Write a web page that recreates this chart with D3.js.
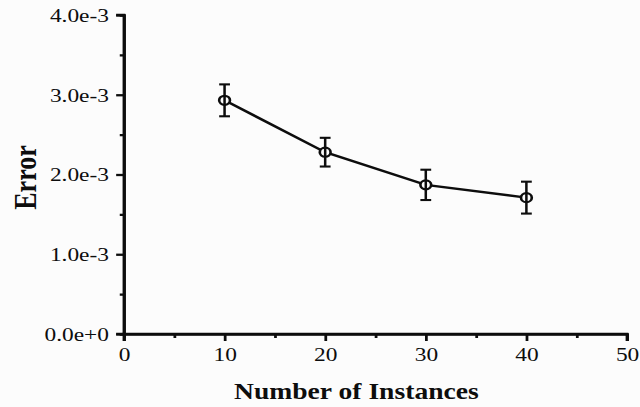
<!DOCTYPE html>
<html>
<head>
<meta charset="utf-8">
<script src="https://cdn.jsdelivr.net/npm/d3@7"></script>
<style>
  html, body { margin: 0; padding: 0; background: #fcfcfc; }
  svg { display: block; }
</style>
</head>
<body>
<svg id="chart"></svg>
<script>
// data
const instances = [10, 20, 30, 40];
const errorMean = [2.93e-3, 2.28e-3, 1.87e-3, 1.71e-3];
const errorSpread = [0.20e-3, 0.18e-3, 0.19e-3, 0.20e-3];

const xMajorTicks = [0, 10, 20, 30, 40, 50];
const xMinorTicks = [5, 15, 25, 35, 45];
const yMajorTicks = [0, 1e-3, 2e-3, 3e-3, 4e-3];
const yMinorTicks = [0.5e-3, 1.5e-3, 2.5e-3, 3.5e-3];

// the original picture is stretched horizontally, so draw in a narrower box
const stretch = 1.2;
const W = 640, H = 407;
const vbW = W / stretch;

const svg = d3.select("#chart")
  .attr("width", W)
  .attr("height", H)
  .attr("viewBox", `0 0 ${vbW} ${H}`)
  .attr("preserveAspectRatio", "none");

const plot = {left: 103.3, right: 522.5, top: 15, bottom: 334};

const x = d3.scaleLinear().domain([0, 50]).range([plot.left, plot.right]);
const y = d3.scaleLinear().domain([0, 4e-3]).range([plot.bottom, plot.top]);

const font = "'Liberation Serif', 'Times New Roman', serif";
const ink = "#0d0d0d";

// axes
const yAxis = svg.append("g")
  .attr("transform", `translate(${plot.left},0)`)
  .call(d3.axisLeft(y).tickValues(yMajorTicks).tickSize(6.5).tickPadding(6)
    .tickFormat(d3.format(".1e")));

svg.append("g")
  .attr("transform", `translate(${plot.left},0)`)
  .call(d3.axisLeft(y).tickValues(yMinorTicks).tickSize(3.5).tickFormat(""));

const xAxis = svg.append("g")
  .attr("transform", `translate(0,${plot.bottom})`)
  .call(d3.axisBottom(x).tickValues(xMajorTicks).tickSize(7).tickPadding(6));

svg.selectAll("g").attr("font-size", null).attr("font-family", null);

svg.append("g")
  .attr("transform", `translate(0,${plot.bottom})`)
  .call(d3.axisBottom(x).tickValues(xMinorTicks).tickSize(4).tickFormat(""));

svg.selectAll(".domain").attr("stroke", ink).attr("stroke-width", 2.3);
svg.selectAll(".tick line").attr("stroke", ink).attr("stroke-width", 2.3);
svg.selectAll(".tick text")
  .attr("fill", ink)
  .attr("font-family", font)
  .attr("font-size", 19.5);

// the axis path end caps are drawn by d3 as outer ticks; keep them at major size
yAxis.select(".domain").attr("d", `M-6.5,${plot.bottom}H0V${plot.top}H-6.5`);
xAxis.select(".domain").attr("d", `M${plot.left},7V0H${plot.right}V7`);

// axis titles
svg.append("text")
  .attr("x", 297)
  .attr("y", 399)
  .attr("text-anchor", "middle")
  .attr("fill", ink)
  .attr("font-family", font)
  .attr("font-weight", "bold")
  .attr("font-size", 23)
  .text("Number of Instances");

svg.append("text")
  .attr("transform", `translate(30,177.5) rotate(-90)`)
  .attr("text-anchor", "middle")
  .attr("fill", ink)
  .attr("font-family", font)
  .attr("font-weight", "bold")
  .attr("font-size", 26)
  .text("Error");

// data
const points = instances.map((d, i) => ({x: d, y: errorMean[i], e: errorSpread[i]}));

svg.append("path")
  .datum(points)
  .attr("fill", "none")
  .attr("stroke", ink)
  .attr("stroke-width", 2.4)
  .attr("d", d3.line().x(d => x(d.x)).y(d => y(d.y)));

svg.selectAll(".marker")
  .data(points)
  .enter().append("circle")
  .attr("class", "marker")
  .attr("cx", d => x(d.x))
  .attr("cy", d => y(d.y))
  .attr("r", 4.5)
  .attr("fill", "#fcfcfc")
  .attr("stroke", ink)
  .attr("stroke-width", 2.2);

const bars = svg.selectAll(".errbar")
  .data(points)
  .enter().append("g")
  .attr("class", "errbar")
  .attr("stroke", ink)
  .attr("stroke-width", 2.1);

bars.append("line")
  .attr("x1", d => x(d.x)).attr("x2", d => x(d.x))
  .attr("y1", d => y(d.y + d.e)).attr("y2", d => y(d.y - d.e));
bars.append("line")
  .attr("x1", d => x(d.x) - 4.5).attr("x2", d => x(d.x) + 4.5)
  .attr("y1", d => y(d.y + d.e)).attr("y2", d => y(d.y + d.e));
bars.append("line")
  .attr("x1", d => x(d.x) - 4.5).attr("x2", d => x(d.x) + 4.5)
  .attr("y1", d => y(d.y - d.e)).attr("y2", d => y(d.y - d.e));
</script>
</body>
</html>
